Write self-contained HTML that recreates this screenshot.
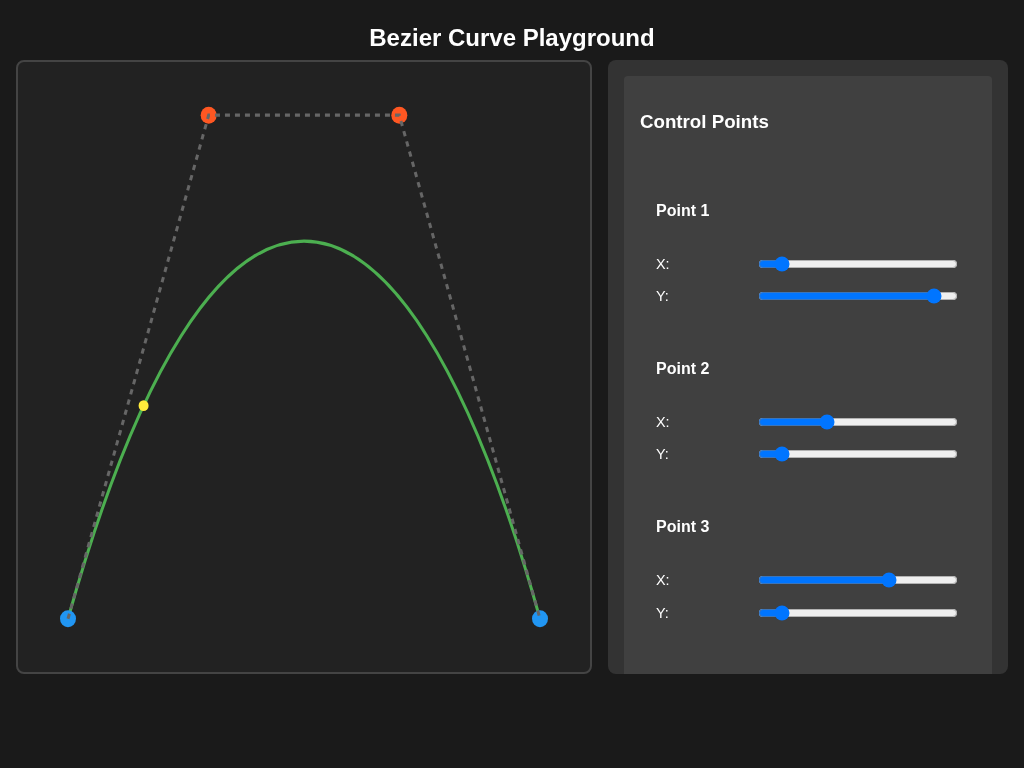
<!DOCTYPE html>
<html lang="en">
<head>
<meta charset="utf-8">
<title>Bezier Curve Playground</title>
<style>
*{box-sizing:border-box}
html,body{margin:0;padding:0}
body{background:#1a1a1a;color:#fff;font-family:"Liberation Sans",Arial,sans-serif;width:1024px;height:768px;overflow:hidden;position:relative}
h1{position:absolute;left:0;top:24px;width:1024px;margin:0;text-align:center;font-size:24px;line-height:28px;font-weight:bold}
#cv{position:absolute;left:16px;top:60px;width:576px;height:614px;background:#222;border:2px solid #444;border-radius:8px;overflow:hidden}
#cv svg{display:block;width:572px;height:610px}
#panel{position:absolute;left:608px;top:60px;width:400px;height:614px;background:#333;border-radius:8px;padding:16px;overflow:hidden}
#group{background:#404040;border-radius:4px;padding:16px;height:700px}
h3{font-size:18.72px;margin:0;position:absolute;left:32px;font-weight:bold;line-height:22px}
h4{font-size:16px;margin:0;position:absolute;left:48px;font-weight:bold;line-height:18px}
.lb{position:absolute;left:48px;font-size:14.4px;line-height:16px}
input[type=range]{position:absolute;left:150px;width:200px;margin:0;height:16px}
</style>
</head>
<body>
<h1>Bezier Curve Playground</h1>
<div id="cv">
<svg viewBox="0 0 572 573.25" preserveAspectRatio="none">
<defs><filter id="vb" color-interpolation-filters="sRGB" x="0" y="0" width="572" height="573.25" filterUnits="userSpaceOnUse"><feGaussianBlur stdDeviation="0 0.4"/></filter></defs>
<g filter="url(#vb)">
<path d="M50,523.25 C190.667,50 381.333,50 522,523.25" fill="none" stroke="#4caf50" stroke-width="3"/>
<circle cx="50" cy="523.25" r="8" fill="#2196f3"/>
<circle cx="522" cy="523.25" r="8" fill="#2196f3"/>
<circle cx="190.667" cy="50" r="8" fill="#ff5722"/>
<circle cx="381.333" cy="50" r="8" fill="#ff5722"/>
<circle cx="125.584" cy="322.923" r="5" fill="#ffeb3b"/>
<path d="M50,523.25 L190.667,50 L381.333,50 L522,523.25" fill="none" stroke="#666" stroke-width="3" stroke-dasharray="5 5"/>
</g>
</svg>
</div>
<div id="panel">
<div id="group">
<h3 style="top:51px">Control Points</h3>
<h4 style="top:142px">Point 1</h4>
<div class="lb" style="top:196px">X:</div><input type="range" min="0" max="572" value="50" style="top:196px">
<div class="lb" style="top:228px">Y:</div><input type="range" min="0" max="572" value="522" style="top:228px">
<h4 style="top:300px">Point 2</h4>
<div class="lb" style="top:354px">X:</div><input type="range" min="0" max="572" value="190.667" step="any" style="top:354px">
<div class="lb" style="top:386px">Y:</div><input type="range" min="0" max="572" value="50" style="top:386px">
<h4 style="top:458px">Point 3</h4>
<div class="lb" style="top:512px">X:</div><input type="range" min="0" max="572" value="381.333" step="any" style="top:512px">
<div class="lb" style="top:545px">Y:</div><input type="range" min="0" max="572" value="50" style="top:545px">
</div>
</div>
</body>
</html>
